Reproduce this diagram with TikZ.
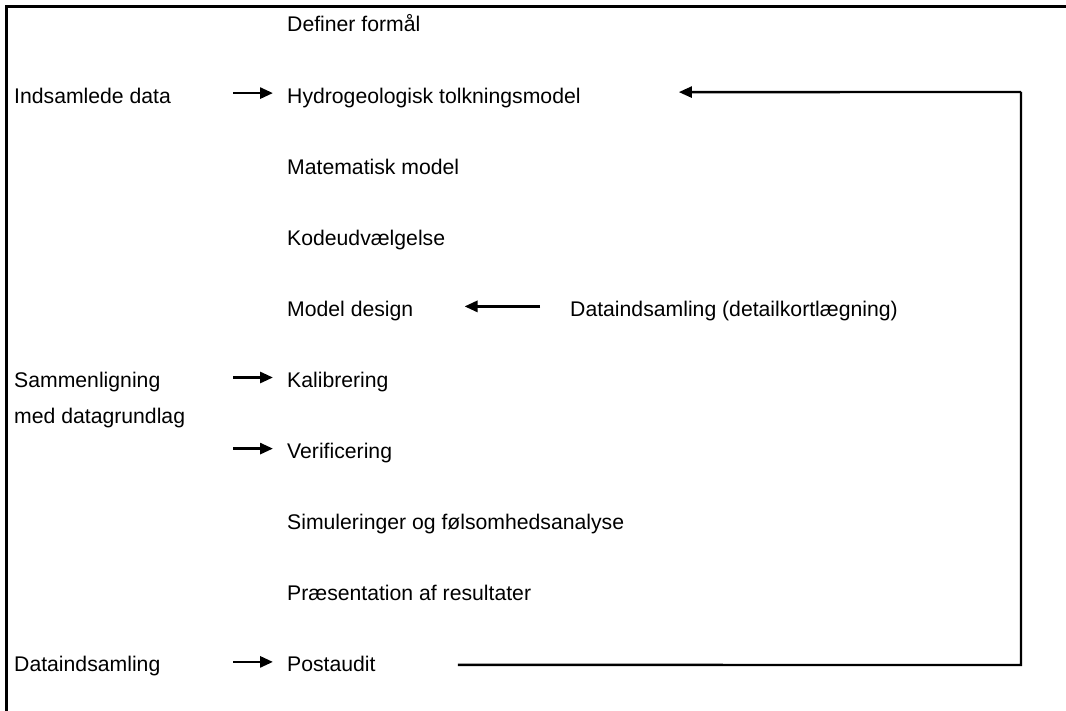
\documentclass[tikz,border=0pt]{standalone}
\usepackage{fontspec}
\setmainfont{Liberation Sans}
\usetikzlibrary{arrows.meta,calc}
\begin{document}
\begin{tikzpicture}[x=1pt,y=-1pt,
  lbl/.style={inner sep=0pt, anchor=west, text height=20pt, text depth=0pt,
    font=\fontsize{21.2}{25}\selectfont},
  arr/.style={line width=2.8pt, -{Triangle[length=13pt,width=11pt]}},
  fb/.style={line width=2.4pt},
  frame/.style={line width=3pt}]
\useasboundingbox (0,0) rectangle (1066,711);
% outer frame (top and left edges)
\draw[frame] (1066,7) -- (6,7) -- (6,711);

% main sequence of steps (node centre = baseline - 10)
\node[lbl] (def)  at (287,22)    {Definer formål};
\node[lbl] (hyd)  at (287,93.1)  {Hydrogeologisk tolkningsmodel};
\node[lbl] (mat)  at (287,164.2) {Matematisk model};
\node[lbl] (kode) at (287,235.3) {Kodeudvælgelse};
\node[lbl] (des)  at (287,306.4) {Model design};
\node[lbl] (kal)  at (287,377.5) {Kalibrering};
\node[lbl] (ver)  at (287,448.6) {Verificering};
\node[lbl] (sim)  at (287,519.7) {Simuleringer og følsomhedsanalyse};
\node[lbl] (pres) at (287,590.8) {Præsentation af resultater};
\node[lbl] (post) at (287,661.9) {Postaudit};

% inputs on the left
\node[lbl] (ind)  at (14,93.1)  {Indsamlede data};
\node[lbl] (sam)  at (14,377.5) {Sammenligning};
\node[lbl] (med)  at (14,413)   {med datagrundlag};
\node[lbl] (dat)  at (14,661.9) {Dataindsamling};

% input on the right of model design
\node[lbl] (detail) at (570,306.4) {Dataindsamling (detailkortlægning)};

% short input arrows
\draw[arr] ($(hyd.west)+(-54,0)$)  -- ($(hyd.west)+(-14,0)$);
\draw[arr] ($(kal.west)+(-54,0)$)  -- ($(kal.west)+(-14,0)$);
\draw[arr] ($(ver.west)+(-54,0)$)  -- ($(ver.west)+(-14,0)$);
\draw[arr] ($(post.west)+(-54,0)$) -- ($(post.west)+(-14,0)$);
\draw[arr] ($(detail.west)+(-30,0)$) -- ($(des.east)+(51,0)$);

% feedback loop from postaudit back to the interpretation model
\coordinate (fbA) at ($(post.east)+(82,3)$);
\coordinate (fbB) at (1021,665);
\coordinate (fbC) at (1021,92);
\coordinate (fbD) at ($(hyd.east)+(98,-1)$);
\draw[fb] (fbA) -- (fbB) -- (fbC);
\draw[arr,line width=2.4pt] (fbC) -- (fbD);
\end{tikzpicture}
\end{document}
